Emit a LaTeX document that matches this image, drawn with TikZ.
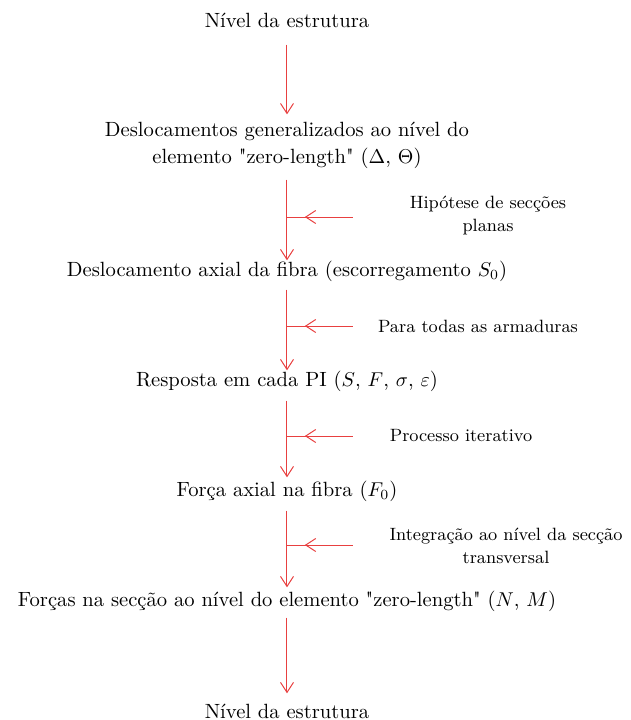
\documentclass[tikz,border=0pt]{standalone}
\usepackage{amsmath,amssymb}
\usepackage{fontspec}
\usepackage{tikz}
\usetikzlibrary{arrows.meta,positioning,decorations.markings}
\usepackage{xcolor}
\definecolor{linkred}{RGB}{232,64,64}
\newcommand{\zl}{\textquotedbl zero-length\textquotedbl}

\begin{document}
\begin{tikzpicture}[x=0.5pt,y=-0.5pt,
  lvl/.style={align=center,inner sep=0pt,font=\fontsize{10.3}{13.5}\selectfont},
  note/.style={align=center,inner sep=0pt,font=\fontsize{8.9}{11.5}\selectfont},
  arr/.style={draw=linkred,line width=0.5pt,-{Straight Barb[length=5pt,width=6.5pt,line width=0.5pt]},shorten <=4.5pt,shorten >=1.5pt},
  sarr/.style={draw=linkred,line width=0.5pt,postaction={decorate},
    decoration={markings,mark=at position 0.73 with {\arrow{Straight Barb[length=5pt,width=6.5pt,line width=0.5pt]}}}}
]
\useasboundingbox (0,0) rectangle (631,720);
\node[lvl] (n1) at (287,20) {Nível da estrutura};
\node[lvl] (n2) at (287,145) {Deslocamentos generalizados ao nível do\\elemento \zl{} ($\Delta$, $\Theta$)};
\node[lvl] (n3) at (287,271) {Deslocamento axial da fibra (escorregamento $S_0$)};
\node[lvl] (n4) at (287,381) {Resposta em cada PI ($S$, $F$, $\sigma$, $\varepsilon$)};
\node[lvl] (n5) at (287,491) {Força axial na fibra ($F_0$)};
\node[lvl] (n6) at (287,601) {Forças na secção ao nível do elemento \zl{} ($N$, $M$)};
\node[lvl] (n7) at (287,711) {Nível da estrutura};

\draw[arr,shorten <=8.5pt,shorten >=3.5pt] (n1) -- (n2);
\draw[arr,shorten <=5.5pt,shorten >=0pt] (n2) -- (n3);
\draw[arr,shorten <=4pt,shorten >=0pt] (n3) -- (n4);
\draw[arr] (n4) -- (n5);
\draw[arr] (n5) -- (n6);
\draw[arr,shorten <=3pt,shorten >=5pt] (n6) -- (n7);

% side inputs
\node[note] (l1) at (488,216) {Hipótese de secções\\planas};
\node[note] (l2) at (478,326) {Para todas as armaduras};
\node[note] (l3) at (461,436) {Processo iterativo};
\node[note] (l4) at (506,546) {Integração ao nível da secção\\transversal};
\coordinate (h1) at (353,217); \coordinate (m1) at (287,217);
\coordinate (h2) at (353,326); \coordinate (m2) at (287,326);
\coordinate (h3) at (353,436); \coordinate (m3) at (287,436);
\coordinate (h4) at (353,545); \coordinate (m4) at (287,545);
\draw[sarr] (h1) -- (m1);
\draw[sarr] (h2) -- (m2);
\draw[sarr] (h3) -- (m3);
\draw[sarr] (h4) -- (m4);
\end{tikzpicture}
\end{document}
